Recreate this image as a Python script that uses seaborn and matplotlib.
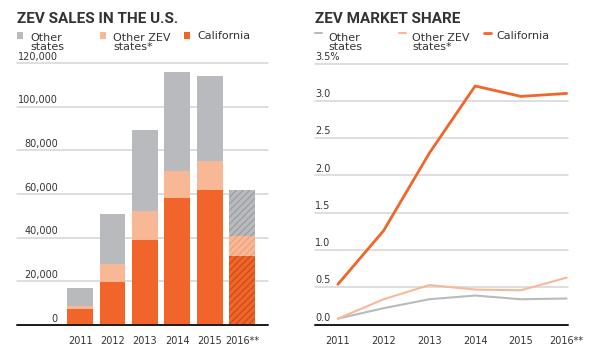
import matplotlib
matplotlib.use('Agg')
import matplotlib.pyplot as plt
import seaborn as sns
import pandas as pd
from matplotlib.patches import Rectangle
from matplotlib.lines import Line2D

# ---- data ----
years = ['2011', '2012', '2013', '2014', '2015', '2016**']
california_sales = [7200, 19800, 38900, 58200, 62000, 31600]
other_zev_sales = [1500, 8100, 13400, 12500, 13000, 9100]
other_states_sales = [8100, 22800, 37000, 45100, 39200, 21300]

california_share = [0.54, 1.26, 2.30, 3.20, 3.06, 3.10]
other_zev_share = [0.08, 0.34, 0.53, 0.47, 0.46, 0.63]
other_states_share = [0.08, 0.22, 0.34, 0.39, 0.34, 0.35]

sales_ticks = [0, 20000, 40000, 60000, 80000, 100000, 120000]
sales_tick_labels = ['0', '20,000', '40,000', '60,000', '80,000', '100,000', '120,000']
share_ticks = [0.0, 0.5, 1.0, 1.5, 2.0, 2.5, 3.0, 3.5]
share_tick_labels = ['0.0', '0.5', '1.0', '1.5', '2.0', '2.5', '3.0', '3.5%']

legend_labels = ['Other\nstates', 'Other ZEV\nstates*', 'California']

# ---- style ----
ORANGE = '#F1652A'
PEACH = '#F8B896'
GRAY = '#B9BABD'
TEXT = '#333333'
GRID = '#D4D4D4'

sns.set_style('white')
plt.rcParams['font.family'] = ['DejaVu Sans']
plt.rcParams['hatch.linewidth'] = 0.9

W, H = 600, 358
fig = plt.figure(figsize=(6, 3.58), dpi=100)

def fx(px):
    return px / W

def fy(px):
    return 1 - px / H

# ---- left: bars ----
axL = fig.add_axes([fx(17), fy(325), 251 / W, 262 / H])
df = pd.DataFrame({'year': years, 'cal': california_sales,
                   'zev': other_zev_sales, 'other': other_states_sales})
df['zev_top'] = df['cal'] + df['zev']
df['total'] = df['zev_top'] + df['other']

sns.barplot(data=df, x='year', y='total', color=GRAY, saturation=1, width=0.8,
            linewidth=0, edgecolor='none', errorbar=None, ax=axL, zorder=2)
sns.barplot(data=df, x='year', y='zev_top', color=PEACH, saturation=1, width=0.8,
            linewidth=0, edgecolor='none', errorbar=None, ax=axL, zorder=2)
sns.barplot(data=df, x='year', y='cal', color=ORANGE, saturation=1, width=0.8,
            linewidth=0, edgecolor='none', errorbar=None, ax=axL, zorder=2)

hatch_cols = ['#9C9DA1', '#EDA27A', '#C94E18']
for cont, hc in zip(axL.containers, hatch_cols):
    p = cont.patches[-1]
    p.set_hatch('/////')
    p.set_edgecolor(hc)
    p.set_linewidth(0)

axL.set_xlim(-1.95, 5.8)
axL.set_ylim(0, 120000)
for t in sales_ticks[1:]:
    axL.axhline(t, color=GRID, lw=1.1, zorder=1, clip_on=False)
axL.axhline(0, color='#1a1a1a', lw=1.4, zorder=3, clip_on=False)
axL.set_yticks([])
axL.set_xlabel('')
axL.set_ylabel('')
for s in axL.spines.values():
    s.set_visible(False)
axL.tick_params(axis='x', length=3, width=0.8, color='#999999', pad=5,
                labelsize=7, labelcolor=TEXT)
for t, lab in zip(sales_ticks, sales_tick_labels):
    axL.annotate(lab, xy=(41 / 251, t), xycoords=axL.get_yaxis_transform(),
                 xytext=(0, 2.5), textcoords='offset points', ha='right',
                 va='baseline', fontsize=7, color=TEXT)

# ---- right: lines ----
axR = fig.add_axes([fx(315), fy(324.6), 253 / W, 261 / H])
x_idx = list(range(len(years)))
sns.lineplot(x=x_idx, y=other_states_share, color=GRAY, linewidth=1.5, ax=axR, zorder=3)
sns.lineplot(x=x_idx, y=other_zev_share, color=PEACH, linewidth=1.5, ax=axR, zorder=3)
sns.lineplot(x=x_idx, y=california_share, color=ORANGE, linewidth=2.0, ax=axR, zorder=4)
axR.set_xlim(-0.5, 5.03)
axR.set_ylim(0, 3.5)
for t in share_ticks[1:]:
    axR.axhline(t, color=GRID, lw=1.1, zorder=1, clip_on=False)
axR.axhline(0, color='#1a1a1a', lw=1.4, zorder=3, clip_on=False)
axR.set_xticks(x_idx)
axR.set_xticklabels(years)
axR.set_yticks([])
axR.set_xlabel('')
axR.set_ylabel('')
for s in axR.spines.values():
    s.set_visible(False)
axR.tick_params(axis='x', length=3, width=0.8, color='#999999', pad=5,
                labelsize=7, labelcolor=TEXT)
for t, lab in zip(share_ticks, share_tick_labels):
    axR.annotate(lab, xy=(0, t), xycoords=axR.get_yaxis_transform(),
                 xytext=(0, 2.8), textcoords='offset points', ha='left',
                 va='baseline', fontsize=7, color=TEXT)

# ---- titles ----
fig.text(fx(17), fy(23), 'ZEV SALES IN THE U.S.', fontsize=11, fontweight='bold',
         family=['Roboto', 'DejaVu Sans'], color=TEXT, va='baseline', ha='left')
fig.text(fx(315), fy(23), 'ZEV MARKET SHARE', fontsize=11, fontweight='bold',
         family=['Roboto', 'DejaVu Sans'], color=TEXT, va='baseline', ha='left')

# ---- legends ----
def legend_text(x, lab):
    # multi-line text: 'baseline' aligns the last line
    n_lines = lab.count('\n') + 1
    base = 39 + (n_lines - 1) * 11.5
    fig.text(fx(x), fy(base), lab, fontsize=8, color=TEXT, va='baseline',
             ha='left', linespacing=0.9)

sq_x = [17, 100, 184]
txt_xL = [30, 113, 197]
for c, x0, tx, lab in zip([GRAY, PEACH, ORANGE], sq_x, txt_xL, legend_labels):
    fig.add_artist(Rectangle((fx(x0), fy(38.5)), 6 / W, 6.5 / H, transform=fig.transFigure,
                             facecolor=c, edgecolor='none'))
    legend_text(tx, lab)

dash_x = [315, 399, 484]
txt_xR = [328, 412, 496]
dash_w = [1.5, 1.5, 2.0]
for c, x0, tx, lab, lw in zip([GRAY, PEACH, ORANGE], dash_x, txt_xR, legend_labels, dash_w):
    fig.add_artist(Line2D([fx(x0), fx(x0 + 6.5)], [fy(32.5), fy(32.5)],
                          transform=fig.transFigure, color=c, lw=lw))
    legend_text(tx, lab)

fig.savefig('out.png', dpi=100)
